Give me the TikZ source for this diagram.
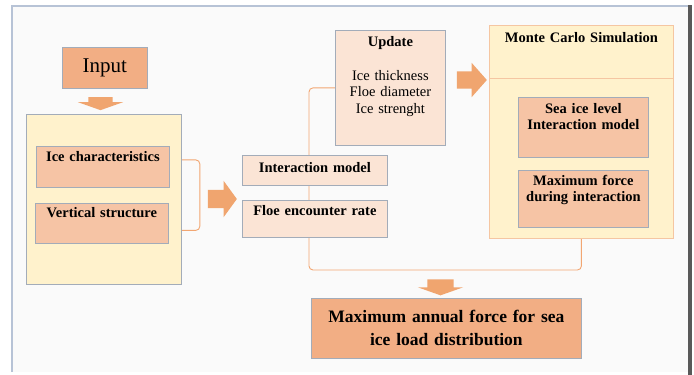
\documentclass[tikz,border=0pt]{standalone}
\usepackage{fontspec}
\setmainfont{Liberation Serif}
\usetikzlibrary{shapes.arrows,backgrounds}

\definecolor{orangefill}{HTML}{F2AE84}
\definecolor{salmonfill}{HTML}{F6C4A5}
\definecolor{peachfill}{HTML}{FBE4D5}
\definecolor{yellowfill}{HTML}{FFF2CC}
\definecolor{boxline}{HTML}{A3ACB9}
\definecolor{mcline}{HTML}{F5C6A2}
\definecolor{linkline}{HTML}{F2A672}
\definecolor{arrowfill}{HTML}{F0A56F}
\definecolor{framefill}{HTML}{FAFAFA}
\definecolor{frameline}{HTML}{B7C3D6}

\tikzset{
  boxfont/.style={font=\fontsize{14.5pt}{16.5pt}\selectfont\bfseries},
  mainbox/.style={rectangle,fill=orangefill,draw=boxline,line width=0.8pt,inner sep=0pt,align=center},
  holder/.style={rectangle,fill=yellowfill,draw=boxline,line width=0.8pt,inner sep=0pt},
  itembox/.style={rectangle,fill=salmonfill,draw=boxline,line width=0.8pt,inner sep=0pt,align=center,boxfont},
  palebox/.style={rectangle,fill=peachfill,draw=boxline,line width=0.8pt,inner sep=0pt,align=center,boxfont},
  fatarrow/.style={single arrow,fill=arrowfill,draw=none,inner xsep=0pt},
  link/.style={draw=linkline,line width=0.9pt,rounded corners=4pt},
}

\begin{document}
\begin{tikzpicture}[x=1pt,y=-1pt]
  \useasboundingbox (0,0) rectangle (694,375);

  % input side
  \node[mainbox,anchor=north west,minimum width=85pt,minimum height=41pt,
        font=\fontsize{21pt}{24pt}\selectfont] (input) at (62,47) {Input};
  \node[fatarrow,rotate=-90,minimum height=13pt,inner ysep=12pt,
        single arrow head extend=10.5pt,single arrow tip angle=141] (inarrow) at (100.5,101.5) {};
  \node[holder,anchor=north west,minimum width=155pt,minimum height=170pt] (inputs) at (26,114) {};
  \node[itembox,anchor=north west,text width=133pt,text height=15pt,text depth=26pt] (icechar) at (36,146) {Ice characteristics};
  \node[itembox,anchor=north west,text width=133pt,text height=14pt,text depth=26pt] (vstruct) at (35,203) {Vertical structure};
  \node[fatarrow,minimum height=29pt,inner ysep=9pt,
        single arrow head extend=9pt,single arrow tip angle=108] (midarrow) at (219,199) {};

  % models
  \node[palebox,anchor=north west,text width=145pt,text height=17pt,text depth=13pt] (intmodel) at (242,155) {Interaction model};
  \node[palebox,anchor=north west,text width=145pt,text height=15pt,text depth=22pt] (floe) at (242,200) {Floe encounter rate};
  \node[palebox,anchor=north west,text width=110pt,text height=16pt,text depth=99pt] (update) at (335,30)
    {Update\\[17.5pt]{\mdseries Ice thickness\\ Floe diameter\\ Ice strenght}};
  \node[fatarrow,minimum height=30pt,inner ysep=8.5pt,
        single arrow head extend=8.5pt,single arrow tip angle=97] (mcarrow) at (468,80) {};

  % simulation
  \node[holder,draw=mcline,anchor=north west,text width=184pt,text height=17pt,text depth=196pt,
        align=center,boxfont] (mc) at (489,25) {Monte Carlo Simulation};
  \draw[mcline,line width=0.8pt] ([yshift=-53pt]mc.north west) -- ([yshift=-53pt]mc.north east);
  \node[itembox,anchor=north west,text width=130pt,text height=16pt,text depth=44pt] (seaice) at (518,97) {Sea ice level\\Interaction model};
  \node[itembox,anchor=north west,text width=130pt,text height=15pt,text depth=42pt] (maxforce) at (518,170) {Maximum force\\during interaction};

  % result
  \node[fatarrow,rotate=-90,minimum height=16pt,inner ysep=13pt,
        single arrow head extend=9.5pt,single arrow tip angle=141] (outarrow) at (440.5,285) {};
  \node[mainbox,anchor=north west,minimum width=270pt,minimum height=60pt,text width=270pt,
        font=\fontsize{17.5pt}{23pt}\selectfont\bfseries] (result) at (311,298)
    {Maximum annual force for sea\\ice load distribution};

  \coordinate (bend) at (309,270);
  \begin{scope}[on background layer]
    \fill[framefill] (12,6) rectangle (688,372);
    \draw[frameline,line width=1.2pt] (12,372) -- (12,6) -- (688,6);
    \fill[black!65] (688,5) rectangle (692,375);
    \draw[link] ([yshift=7pt]icechar.east) -- ++(30,0) |- ([yshift=-7pt]vstruct.east);
    \draw[link] (update.west) -| (bend) -| (mc.south);
  \end{scope}
\end{tikzpicture}
\end{document}
